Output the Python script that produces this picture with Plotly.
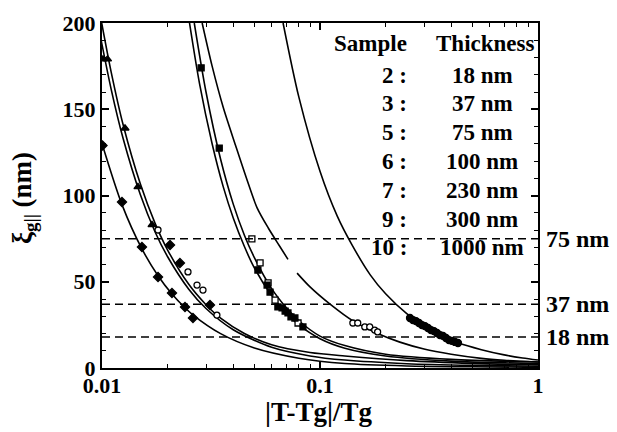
import plotly.graph_objects as go

# ---- fitted curves: |T-Tg|/Tg and xi_g|| (nm) ----
c2_t = [0.0677, 0.08, 0.10, 0.12, 0.14, 0.17, 0.20, 0.25, 0.30, 0.35, 0.43, 0.55, 0.70, 0.85, 1.0]
c2_xi = [200, 157, 114, 88, 71.5, 54, 43, 31.5, 24.5, 19.8, 14.6, 10.6, 7.6, 5.8, 4.6]

# curve tagged "6": broken where its tag sits, continues through the sample-3 circles
c6_t = [0.0288, 0.032, 0.036, 0.041, 0.046, 0.0514, 0.058, 0.065, 0.0713, None,
        0.0785, 0.09, 0.1112, 0.1416, 0.1838, 0.2325, 0.30, 0.40, 0.55, 0.70, 1.0]
c6_xi = [200, 175, 151, 129, 110, 93, 81, 71, 63, None,
         55, 47, 37, 27.3, 20, 15, 11, 8, 5.6, 4.5, 3.5]

m1_t = [0.0252, 0.028, 0.032, 0.036, 0.040, 0.045, 0.050, 0.060, 0.070, 0.080, 0.10, 0.13, 0.2, 0.4, 1.0]
m1_xi = [200, 165, 130, 105, 87, 70.4, 58, 42, 31.8, 25, 17, 11.5, 7, 4, 2.6]

m2_t = [0.0265, 0.030, 0.035, 0.040, 0.045, 0.050, 0.060, 0.070, 0.080, 0.10, 0.13, 0.2, 0.4, 1.0]
m2_xi = [200, 160, 121, 95, 77, 64, 46, 35, 27.4, 18.5, 13, 8, 5, 3.5]

c10_t = [0.0097, 0.011, 0.0125, 0.015, 0.0175, 0.020, 0.025, 0.030, 0.040, 0.060, 0.090, 0.13, 0.25, 0.5, 1.0]
c10_xi = [196, 162, 133, 100.4, 79, 64.5, 45.7, 34.5, 22.2, 12, 7, 4.6, 2.5, 1.5, 1.0]

c9_t = [0.0099, 0.011, 0.0125, 0.015, 0.0175, 0.020, 0.025, 0.030, 0.035, 0.045, 0.060, 0.090, 0.13, 0.25, 0.5, 1.0]
c9_xi = [202, 172, 141, 106.6, 84, 68.4, 48.5, 36.7, 28.9, 20, 13.5, 9, 7, 4.3, 2.7, 1.8]

c7_t = [0.00995, 0.01235, 0.01525, 0.01807, 0.02094, 0.02403, 0.0261, 0.035, 0.050, 0.080, 0.13, 0.25, 0.5, 1.0]
c7_xi = [131, 94.7, 69, 53.5, 42.9, 34.9, 30.8, 19.9, 11.6, 5.7, 2.6, 1.2, 0.7, 0.4]

# ---- measured points ----
s2_t = [0.2587, 0.2671, 0.2756, 0.2845, 0.2937, 0.3031, 0.3129, 0.3229, 0.3333,
        0.3441, 0.3552, 0.3666, 0.3784, 0.3905, 0.4031, 0.4162, 0.4295]
s2_xi = [29.0, 27.8, 27.2, 26.1, 24.9, 24.3, 23.2, 22.0, 21.4,
         20.3, 19.1, 18.6, 17.4, 16.2, 15.7, 15.1, 14.5]

s3_t = [0.1415, 0.149, 0.1605, 0.1691, 0.1782, 0.1838]
s3_xi = [26.1, 26.1, 23.8, 23.8, 22.0, 20.9]

s5_t = [0.0487, 0.0531, 0.0578, 0.0622, 0.0793]
s5_xi = [74.8, 60.9, 49.3, 39.4, 26.1]

s6_t = [0.0285, 0.0345, 0.0519, 0.0572, 0.059, 0.0641, 0.067, 0.0692, 0.0713, 0.0736, 0.0767, 0.0835]
s6_xi = [174, 127.5, 56.8, 48.1, 44, 35.4, 34.8, 33, 31.9, 29.6, 29, 23.8]

s7_t = [0.01005, 0.01235, 0.01525, 0.01807, 0.02094, 0.02403, 0.02614]
s7_xi = [129, 96.2, 70.1, 52.8, 43.5, 35.4, 29]

s9_open_t = [0.01807, 0.0248, 0.02728, 0.02905, 0.03366]
s9_open_xi = [80, 55.7, 48.1, 45.2, 30.7]
s9_fill_t = [0.02051, 0.02277, 0.03128]
s9_fill_xi = [71.3, 60.9, 36.5]

s10_t = [0.0101, 0.0106, 0.01275, 0.01462, 0.01696]
s10_xi = [179, 179, 139, 105, 83]

# film thickness reference levels (nm)
levels = [75, 37, 18]
level_labels = ["75 nm", "37 nm", "18 nm"]

# legend table
samples = ["2 :", "3 :", "5 :", "6 :", "7 :", "9 :", "10 :"]
thickness = ["18 nm", "37 nm", "75 nm", "100 nm", "230 nm", "300 nm", "1000 nm"]

# curve tags
tag_text = ["10", "9", "7", "5", "6", "3", "2"]
tag_t = [0.01542, 0.02728, 0.01494, 0.04929, 0.0559, 0.1825, 0.4465]
tag_xi = [128, 62.6, 52.8, 45.2, 65.5, 29, 27.8]

SERIF = "Liberation Serif"
fig = go.Figure()

for tx, yx in [(c2_t, c2_xi), (c6_t, c6_xi), (m1_t, m1_xi), (m2_t, m2_xi),
               (c10_t, c10_xi), (c9_t, c9_xi), (c7_t, c7_xi)]:
    fig.add_trace(go.Scatter(x=tx, y=yx, mode="lines", connectgaps=False,
                             line=dict(color="black", width=1.6, shape="spline", smoothing=0.8),
                             hoverinfo="skip"))

def pts(tx, yx, symbol, size=6, filled=True):
    fig.add_trace(go.Scatter(
        x=tx, y=yx, mode="markers",
        marker=dict(symbol=symbol, size=size,
                    color="black" if filled else "white",
                    line=dict(color="black", width=1.3))))

pts(s2_t, s2_xi, "circle", 7)
pts(s3_t, s3_xi, "circle", 6, filled=False)
pts(s5_t, s5_xi, "square", 6, filled=False)
pts(s6_t, s6_xi, "square", 6)
pts(s7_t, s7_xi, "diamond", 7)
pts(s9_open_t, s9_open_xi, "circle", 6, filled=False)
pts(s9_fill_t, s9_fill_xi, "diamond", 7)
pts(s10_t, s10_xi, "triangle-up", 7)

# plot-area geometry in pixels, used to place text
L, R, T, B = 102, 538, 23, 368
def px(x):
    return (x - L) / (R - L)
def py(y):
    return (B - y) / (B - T)

for lv, lab in zip(levels, level_labels):
    fig.add_shape(type="line", xref="paper", x0=0, x1=1, yref="y", y0=lv, y1=lv,
                  line=dict(color="black", width=1.5, dash="8px,5px"))
    fig.add_annotation(xref="paper", yref="y", x=px(544), y=lv, text=lab,
                       showarrow=False, xanchor="left", yanchor="middle",
                       font=dict(family=SERIF, size=24, color="black", weight="bold"))

bold = dict(family=SERIF, size=23, color="black", weight="bold")

fig.add_annotation(xref="paper", yref="paper", x=px(370), y=py(43), text="Sample",
                   showarrow=False, xanchor="center", yanchor="middle", font=bold)
fig.add_annotation(xref="paper", yref="paper", x=px(485), y=py(43), text="Thickness",
                   showarrow=False, xanchor="center", yanchor="middle", font=bold)
for i, (s, th) in enumerate(zip(samples, thickness)):
    yy = 75 + i * 28.8
    fig.add_annotation(xref="paper", yref="paper", x=px(409), y=py(yy), text=s,
                       showarrow=False, xanchor="right", yanchor="middle", font=bold)
    fig.add_annotation(xref="paper", yref="paper", x=px(482), y=py(yy), text=th,
                       showarrow=False, xanchor="center", yanchor="middle", font=bold)

for tt, tx, ty in zip(tag_text, tag_t, tag_xi):
    fig.add_annotation(x=tx, y=ty, xref="x", yref="y", text=tt, showarrow=False,
                       xanchor="center", yanchor="middle",
                       font=dict(family=SERIF, size=24, color="black", weight="bold"))

# axis titles
fig.add_annotation(xref="paper", yref="paper", x=px(318), y=py(412),
                   text="|T-Tg|/Tg", showarrow=False, xanchor="center", yanchor="middle",
                   font=dict(family=SERIF, size=27, color="black", weight="bold"))
fig.add_annotation(xref="paper", yref="paper", x=px(24), y=py(198),
                   text="ξ<sub>g||</sub> (nm)", textangle=-90, showarrow=False,
                   xanchor="center", yanchor="middle",
                   font=dict(family=SERIF, size=27, color="black", weight="bold"))

tick_font = dict(family=SERIF, size=22, color="black", weight="bold")
minor_x = [k * 10.0 ** e for e in (-2, -1) for k in range(2, 10)]
fig.update_xaxes(type="log", range=[-2, 0], showline=True, linecolor="black", linewidth=2,
                 mirror="allticks", ticks="inside", ticklen=7, tickwidth=1.5, tickcolor="black",
                 tickvals=[0.01, 0.1, 1], ticktext=["0.01", "0.1", "1"], tickfont=tick_font,
                 ticklabelstandoff=-3,
                 minor=dict(ticks="inside", ticklen=4, tickwidth=1, tickcolor="black", tickvals=minor_x),
                 showgrid=False, zeroline=False)
fig.update_yaxes(range=[0, 200], showline=True, linecolor="black", linewidth=2,
                 mirror="allticks", ticks="inside", ticklen=7, tickwidth=1.5, tickcolor="black",
                 tickvals=[0, 50, 100, 150, 200], tickfont=tick_font,
                 minor=dict(ticks="inside", ticklen=4, tickwidth=1, tickcolor="black", dtick=10),
                 showgrid=False, zeroline=False)

fig.update_layout(width=617, height=432, margin=dict(l=L, r=617 - R, t=T, b=432 - B),
                  plot_bgcolor="white", paper_bgcolor="white", showlegend=False)

fig.write_html("out.html")
